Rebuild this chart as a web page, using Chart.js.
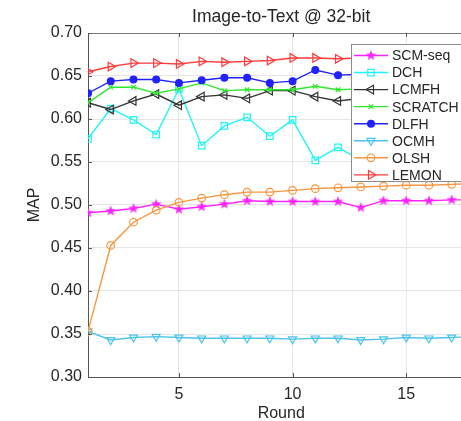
<!DOCTYPE html>
<html>
<head>
<meta charset="utf-8">
<script src="https://cdn.jsdelivr.net/npm/chart.js@4/dist/chart.umd.min.js"></script>
<style>
  html, body { margin: 0; padding: 0; background: #fff; }
  #wrap { width: 461px; height: 421px; }
</style>
</head>
<body>
<div id="wrap"><canvas id="chart" width="461" height="421"></canvas></div>
<script>
// values (rounds 13+ of the top lines sit behind the legend)
const rounds  = [1, 2, 3, 4, 5, 6, 7, 8, 9, 10, 11, 12, 13, 14, 15, 16, 17, 18];
const scmSeq  = [0.491, 0.493, 0.496, 0.501, 0.495, 0.498, 0.501, 0.505, 0.504, 0.504, 0.504, 0.504, 0.497, 0.505, 0.505, 0.505, 0.506, 0.506];
const dch     = [0.577, 0.612, 0.599, 0.582, 0.635, 0.569, 0.592, 0.602, 0.580, 0.599, 0.552, 0.567, 0.552, 0.560, 0.555, 0.561, 0.558, 0.560];
const lcmfh   = [0.619, 0.611, 0.621, 0.629, 0.616, 0.626, 0.628, 0.624, 0.633, 0.633, 0.626, 0.621, 0.624, 0.626, 0.627, 0.626, 0.628, 0.628];
const scratch = [0.619, 0.637, 0.637, 0.630, 0.635, 0.642, 0.633, 0.634, 0.634, 0.634, 0.638, 0.634, 0.635, 0.636, 0.636, 0.637, 0.636, 0.637];
const dlfh    = [0.630, 0.644, 0.646, 0.646, 0.642, 0.645, 0.648, 0.648, 0.642, 0.644, 0.657, 0.651, 0.652, 0.654, 0.653, 0.655, 0.654, 0.655];
const ocmh    = [0.353, 0.343, 0.346, 0.347, 0.346, 0.345, 0.345, 0.345, 0.345, 0.344, 0.345, 0.345, 0.343, 0.344, 0.346, 0.345, 0.346, 0.347];
const olsh    = [0.353, 0.453, 0.480, 0.494, 0.503, 0.508, 0.512, 0.515, 0.515, 0.517, 0.519, 0.520, 0.521, 0.522, 0.523, 0.523, 0.524, 0.525];
const lemon   = [0.655, 0.661, 0.665, 0.665, 0.664, 0.667, 0.666, 0.667, 0.668, 0.671, 0.671, 0.670, 0.671, 0.672, 0.671, 0.672, 0.673, 0.673];
const yTicks  = [0.30, 0.35, 0.40, 0.45, 0.50, 0.55, 0.60, 0.65, 0.70];
const xTicks  = [5, 10, 15];

const fontFamily = "'Liberation Sans', Arial, Helvetica, sans-serif";
const textColor = '#262626';

// filled five point star, chart.js has no pentagram
function makeStar(color, size) {
    let c = document.createElement('canvas');
    c.width = size;
    c.height = size;
    let g = c.getContext('2d');
    let cx = size / 2, cy = size / 2, ro = size / 2 - 0.5, ri = ro * 0.42;
    g.beginPath();
    for (let i = 0; i < 10; i++) {
        let r = i % 2 === 0 ? ro : ri;
        let a = -Math.PI / 2 + i * Math.PI / 5;
        g.lineTo(cx + r * Math.cos(a), cy + r * Math.sin(a));
    }
    g.closePath();
    g.fillStyle = color;
    g.fill();
    return c;
}

function series(label, values, color, style, extra) {
    return Object.assign({
        label: label,
        data: rounds.map((r, i) => ({x: r, y: values[i]})),
        borderColor: color,
        backgroundColor: color,
        pointBorderColor: color,
        pointBackgroundColor: 'rgba(0,0,0,0)',
        borderWidth: 1.4,
        pointBorderWidth: 1.2,
        pointStyle: style,
        pointRadius: 4.5,
        pointRotation: 0,
        tension: 0
    }, extra || {});
}

let datasets = [
    series('SCM-seq', scmSeq, '#ff22ff', makeStar('#ff22ff', 12), {pointRadius: 6}),
    series('DCH', dch, '#22f4f4', 'rect', {pointRadius: 4.6}),
    series('LCMFH', lcmfh, '#333333', 'triangle', {pointRotation: 270, pointRadius: 5}),
    series('SCRATCH', scratch, '#2ee82e', 'crossRot', {pointRadius: 3.2}),
    series('DLFH', dlfh, '#2222ff', 'circle', {pointBackgroundColor: '#2222ff', pointRadius: 3.4}),
    series('OCMH', ocmh, '#4cc4ea', 'triangle', {pointRotation: 180, pointRadius: 4.6}),
    series('OLSH', olsh, '#f7963e', 'circle', {pointRadius: 3.8}),
    series('LEMON', lemon, '#ff3b3b', 'triangle', {pointRotation: 90, pointRadius: 5})
];
// later series on top, like the original plot order
datasets.forEach((d, i) => { d.order = datasets.length - i; });

const frame = {
    id: 'frame',
    afterDraw(chart) {
        let ctx = chart.ctx;
        let area = chart.chartArea;
        let xs = chart.scales.x;
        let ys = chart.scales.y;
        ctx.save();

        // top edge of the box
        ctx.strokeStyle = '#7a7a7a';
        ctx.lineWidth = 1;
        ctx.beginPath();
        ctx.moveTo(area.left, area.top + 0.5);
        ctx.lineTo(area.right, area.top + 0.5);
        ctx.stroke();

        // small inward tick marks
        ctx.strokeStyle = '#555555';
        ctx.beginPath();
        xTicks.forEach(v => {
            let px = Math.round(xs.getPixelForValue(v)) + 0.5;
            ctx.moveTo(px, area.bottom);
            ctx.lineTo(px, area.bottom - 4);
            ctx.moveTo(px, area.top);
            ctx.lineTo(px, area.top + 4);
        });
        yTicks.forEach(v => {
            let py = Math.round(ys.getPixelForValue(v)) + 0.5;
            ctx.moveTo(area.left, py);
            ctx.lineTo(area.left + 4, py);
        });
        ctx.stroke();

        // titles, centred on the full round range 1..18
        let cx = xs.getPixelForValue(9.5);
        ctx.fillStyle = textColor;
        ctx.textAlign = 'center';
        ctx.textBaseline = 'middle';
        ctx.font = '17.5px ' + fontFamily;
        ctx.fillText('Image-to-Text @ 32-bit', cx, 17);
        ctx.font = '16px ' + fontFamily;
        ctx.fillText('Round', cx, 414);
        ctx.save();
        ctx.translate(35, (area.top + area.bottom) / 2);
        ctx.rotate(-Math.PI / 2);
        ctx.fillText('MAP', 0, 0);
        ctx.restore();

        // legend box, its right side runs off the picture
        let bx = 351, by = 44, bw = 120, bh = 138;
        ctx.fillStyle = '#ffffff';
        ctx.fillRect(bx, by, bw, bh);
        ctx.strokeStyle = '#8c8c8c';
        ctx.strokeRect(bx + 0.5, by + 0.5, bw - 1, bh - 1);
        ctx.font = '14px ' + fontFamily;
        ctx.textAlign = 'left';
        chart.data.datasets.forEach((d, i) => {
            let y = 55.5 + i * 17.05;
            ctx.strokeStyle = d.borderColor;
            ctx.lineWidth = d.borderWidth;
            ctx.beginPath();
            ctx.moveTo(354, y);
            ctx.lineTo(388, y);
            ctx.stroke();
            ctx.fillStyle = d.pointBackgroundColor;
            ctx.strokeStyle = d.pointBorderColor;
            ctx.lineWidth = d.pointBorderWidth;
            Chart.helpers.drawPoint(ctx, {
                pointStyle: d.pointStyle,
                rotation: d.pointRotation,
                radius: d.pointRadius,
                borderWidth: d.pointBorderWidth
            }, 371, y);
            ctx.fillStyle = textColor;
            ctx.fillText(d.label, 392, y + 1);
        });
        ctx.restore();
    }
};

let chart = new Chart(document.getElementById('chart'), {
    type: 'line',
    data: {datasets: datasets},
    options: {
        responsive: false,
        animation: false,
        layout: {autoPadding: false, padding: {top: 33, right: 0, left: 0, bottom: 0}},
        plugins: {
            legend: {display: false},
            title: {display: false},
            tooltip: {enabled: false}
        },
        scales: {
            x: {
                type: 'linear',
                min: 1,
                max: 17.41,
                afterBuildTicks: (scale) => { scale.ticks = xTicks.map(v => ({value: v})); },
                afterFit: (scale) => { scale.height = 44; },
                grid: {color: '#e6e6e6', drawTicks: false},
                border: {color: '#555555', width: 1},
                ticks: {
                    color: textColor,
                    font: {family: fontFamily, size: 16},
                    padding: 8,
                    maxRotation: 0,
                    callback: (v) => String(v)
                }
            },
            y: {
                min: 0.3,
                max: 0.7,
                afterBuildTicks: (scale) => { scale.ticks = yTicks.map(v => ({value: v})); },
                afterFit: (scale) => { scale.width = 88; },
                grid: {color: '#e6e6e6', drawTicks: false},
                border: {color: '#555555', width: 1},
                ticks: {
                    color: textColor,
                    font: {family: fontFamily, size: 16},
                    padding: 6,
                    callback: (v) => v.toFixed(2)
                }
            }
        }
    },
    plugins: [frame]
});
</script>
</body>
</html>
